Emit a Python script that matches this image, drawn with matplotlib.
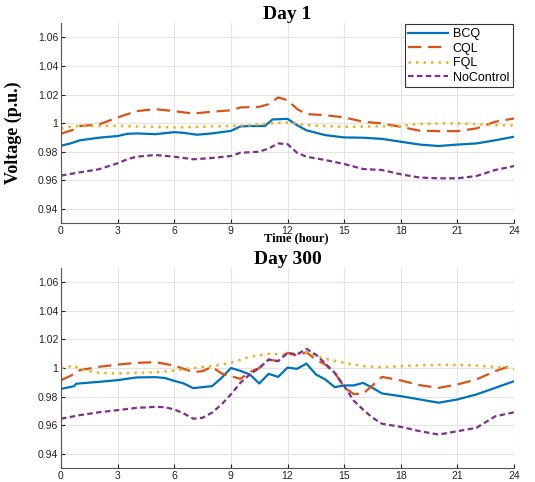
import matplotlib
matplotlib.use("Agg")
import matplotlib.pyplot as plt

# ---------- data ----------
# Day 1
d1_bcq_t = [0, 0.5, 1, 2, 3, 3.5, 4, 5, 6, 6.5, 7.2, 8, 9, 9.5, 10, 10.8, 11.2, 12, 12.5, 13,
            14, 15, 16, 17, 18, 19, 20, 21, 22, 23, 24]
d1_bcq_v = [0.9842, 0.9858, 0.988, 0.9898, 0.991, 0.9925, 0.9928, 0.9923, 0.9937, 0.9932, 0.9919,
            0.9928, 0.9946, 0.9977, 0.998, 0.998, 1.0026, 1.003, 0.9986, 0.995,
            0.9916, 0.990, 0.9898, 0.989, 0.987, 0.985, 0.984, 0.985, 0.9858, 0.988, 0.9905]

d1_cql_t = [0, 0.7, 1, 2, 3, 4, 5, 6, 7, 8, 9, 9.5, 10.5, 11, 11.5, 12, 12.5, 13, 14, 15,
            16, 17, 18, 19, 20, 21, 22, 23, 24]
d1_cql_v = [0.9926, 0.9956, 0.998, 0.999, 1.004, 1.0084, 1.0098, 1.0084, 1.0067, 1.008, 1.009,
            1.011, 1.0114, 1.0133, 1.018, 1.016, 1.010, 1.0063, 1.0056, 1.004,
            1.001, 0.9998, 0.9974, 0.9947, 0.9944, 0.9944, 0.9963, 1.001, 1.0033]

d1_fql_t = [0, 0.5, 1, 3, 6, 9, 10, 11, 12, 13, 15, 18, 19, 20, 21, 22, 23, 24]
d1_fql_v = [0.9963, 0.9975, 0.998, 0.998, 0.997, 0.998, 0.9986, 0.9998, 1.0005, 0.9986,
            0.9974, 0.998, 0.9995, 0.9998, 0.9998, 0.9993, 0.9986, 0.9984]

d1_noc_t = [0, 1, 2, 3, 3.5, 4, 5, 6, 7, 8, 9, 9.5, 10.5, 11, 11.5, 12, 12.5, 13, 14, 15,
            16, 17, 18, 19, 20, 21, 22, 23, 24]
d1_noc_v = [0.9633, 0.9656, 0.9677, 0.9719, 0.9747, 0.9765, 0.9777, 0.9765, 0.9747, 0.9756,
            0.977, 0.9793, 0.980, 0.9823, 0.9858, 0.9853, 0.9793, 0.9765, 0.9742, 0.9714,
            0.9679, 0.9672, 0.9642, 0.9619, 0.9614, 0.9614, 0.963, 0.9672, 0.970]

# Day 300
d300_bcq_t = [0, 0.7, 0.8, 2, 3, 4, 5, 5.5, 6, 6.5, 7, 8, 8.5, 9, 9.5, 10, 10.5, 11, 11.5, 12,
              12.5, 13, 13.5, 14, 14.5, 15, 15.5, 16, 16.5, 17, 18, 19, 20, 21, 22, 23, 24]
d300_bcq_v = [0.9854, 0.9873, 0.989, 0.9903, 0.9915, 0.9934, 0.9936, 0.993, 0.991, 0.9892,
              0.9859, 0.9873, 0.993, 1.0, 0.998, 0.9955, 0.9892, 0.9959, 0.9938, 1.0003,
              0.9994, 1.0031, 0.9955, 0.992, 0.9866, 0.9878, 0.9878, 0.9896, 0.9861, 0.9822,
              0.9803, 0.978, 0.9757, 0.978, 0.9815, 0.9861, 0.9908]

d300_cql_t = [0, 0.5, 1, 2, 3, 4, 5, 6, 7, 7.5, 8, 8.5, 9, 9.5, 10, 10.5, 11, 11.5, 12, 12.5,
              13, 13.5, 14, 14.5, 15, 15.5, 16, 16.5, 17, 18, 19, 20, 21, 22, 23, 24]
d300_cql_v = [0.9915, 0.9945, 0.9985, 1.0008, 1.0024, 1.0036, 1.0041, 1.0017, 0.9971, 0.9978,
              1.0008, 0.9962, 0.9943, 0.9924, 0.9971, 1.0, 1.0059, 1.0048, 1.0106, 1.0087,
              1.011, 1.0059, 1.0024, 0.9966, 0.9866, 0.9818, 0.982, 0.9878, 0.9938, 0.9913,
              0.988, 0.9861, 0.9885, 0.992, 0.9978, 1.0024]

d300_fql_t = [0, 0.7, 1, 2, 3, 4, 5, 6, 7, 8, 9, 10, 11, 12, 13, 14, 15, 16, 17, 18, 19, 20,
              21, 22, 23, 24]
d300_fql_v = [1.0, 1.0017, 0.999, 0.9966, 0.9962, 0.9966, 0.997, 0.9982, 1.0, 1.0013, 1.0036,
              1.0078, 1.0099, 1.0094, 1.0106, 1.0064, 1.0036, 1.0013, 1.0006, 1.0013, 1.0019,
              1.0022, 1.0022, 1.0017, 1.0008, 0.9994]

d300_noc_t = [0, 1, 2, 3, 4, 5, 5.5, 6, 6.5, 7, 7.5, 8, 8.5, 9, 9.5, 10, 10.5, 11, 11.5, 12,
              12.5, 13, 13.5, 14, 14.5, 15, 15.5, 16, 16.5, 17, 18, 19, 20, 21, 22, 23, 24]
d300_noc_v = [0.9645, 0.967, 0.969, 0.9705, 0.9721, 0.9728, 0.9726, 0.971, 0.9682, 0.9645,
              0.9652, 0.9687, 0.9745, 0.9815, 0.9896, 0.9955, 1.0, 1.0059, 1.0048, 1.0106,
              1.0094, 1.0134, 1.0094, 1.0031, 0.9966, 0.9873, 0.9772, 0.9709, 0.9652, 0.961,
              0.9588, 0.9558, 0.9534, 0.9558, 0.9581, 0.9662, 0.969]

labels = ["BCQ", "CQL", "FQL", "NoControl"]
x_ticks = [0, 3, 6, 9, 12, 15, 18, 21, 24]
y_ticks = [0.94, 0.96, 0.98, 1.0, 1.02, 1.04, 1.06]
y_ticklabels = ["0.94", "0.96", "0.98", "1", "1.02", "1.04", "1.06"]

# ---------- styles ----------
styles = [
    dict(color="#0072BD", linestyle="-", linewidth=1.6),
    dict(color="#D95319", linestyle=(0, (6, 3)), linewidth=1.6),
    dict(color="#EDB120", linestyle=(0, (1, 2)), linewidth=1.8),
    dict(color="#7E2F8E", linestyle=(0, (2.5, 1.5)), linewidth=1.6),
]

plt.rcParams["font.family"] = ["Liberation Sans", "DejaVu Sans"]
serif_bold = dict(family="Liberation Serif", fontweight="bold")

fig = plt.figure(figsize=(5.35, 4.82), dpi=100)
ax1 = fig.add_axes([0.114, 0.537, 0.847, 0.415])
ax2 = fig.add_axes([0.114, 0.029, 0.847, 0.415])

days = [
    (ax1, "Day 1", [(d1_bcq_t, d1_bcq_v), (d1_cql_t, d1_cql_v),
                    (d1_fql_t, d1_fql_v), (d1_noc_t, d1_noc_v)]),
    (ax2, "Day 300", [(d300_bcq_t, d300_bcq_v), (d300_cql_t, d300_cql_v),
                      (d300_fql_t, d300_fql_v), (d300_noc_t, d300_noc_v)]),
]

for ax, title, series in days:
    for (t, v), lab, st in zip(series, labels, styles):
        ax.plot(t, v, label=lab, **st)
    ax.set_xlim(0, 24)
    ax.set_ylim(0.93, 1.07)
    ax.set_xticks(x_ticks)
    ax.set_yticks(y_ticks)
    ax.set_yticklabels(y_ticklabels)
    ax.grid(True, color="#e4e4e4", linewidth=0.8)
    ax.set_axisbelow(True)
    for s in ["top", "right"]:
        ax.spines[s].set_visible(False)
    for s in ["left", "bottom"]:
        ax.spines[s].set_color("#555555")
        ax.spines[s].set_linewidth(0.8)
    ax.tick_params(direction="in", length=3, labelsize=7.5, colors="#222222", pad=2)
    ax.set_title(title, fontsize=14, pad=3, **serif_bold)

ax1.set_xlabel("Time (hour)", fontsize=9, **serif_bold)
ax1.xaxis.set_label_coords(0.52, -0.045)
ax1.set_ylabel("Voltage (p.u.)", fontsize=13, **serif_bold)
ax1.yaxis.set_label_coords(-0.085, 0.45)

leg = ax1.legend(loc="upper right", fontsize=9, fancybox=False, framealpha=1,
                 edgecolor="#333333", borderaxespad=0.1, handlelength=3.2,
                 handletextpad=0.35, borderpad=0.3, labelspacing=0.2)
leg.get_frame().set_linewidth(0.8)

fig.savefig("out.png", dpi=100)
